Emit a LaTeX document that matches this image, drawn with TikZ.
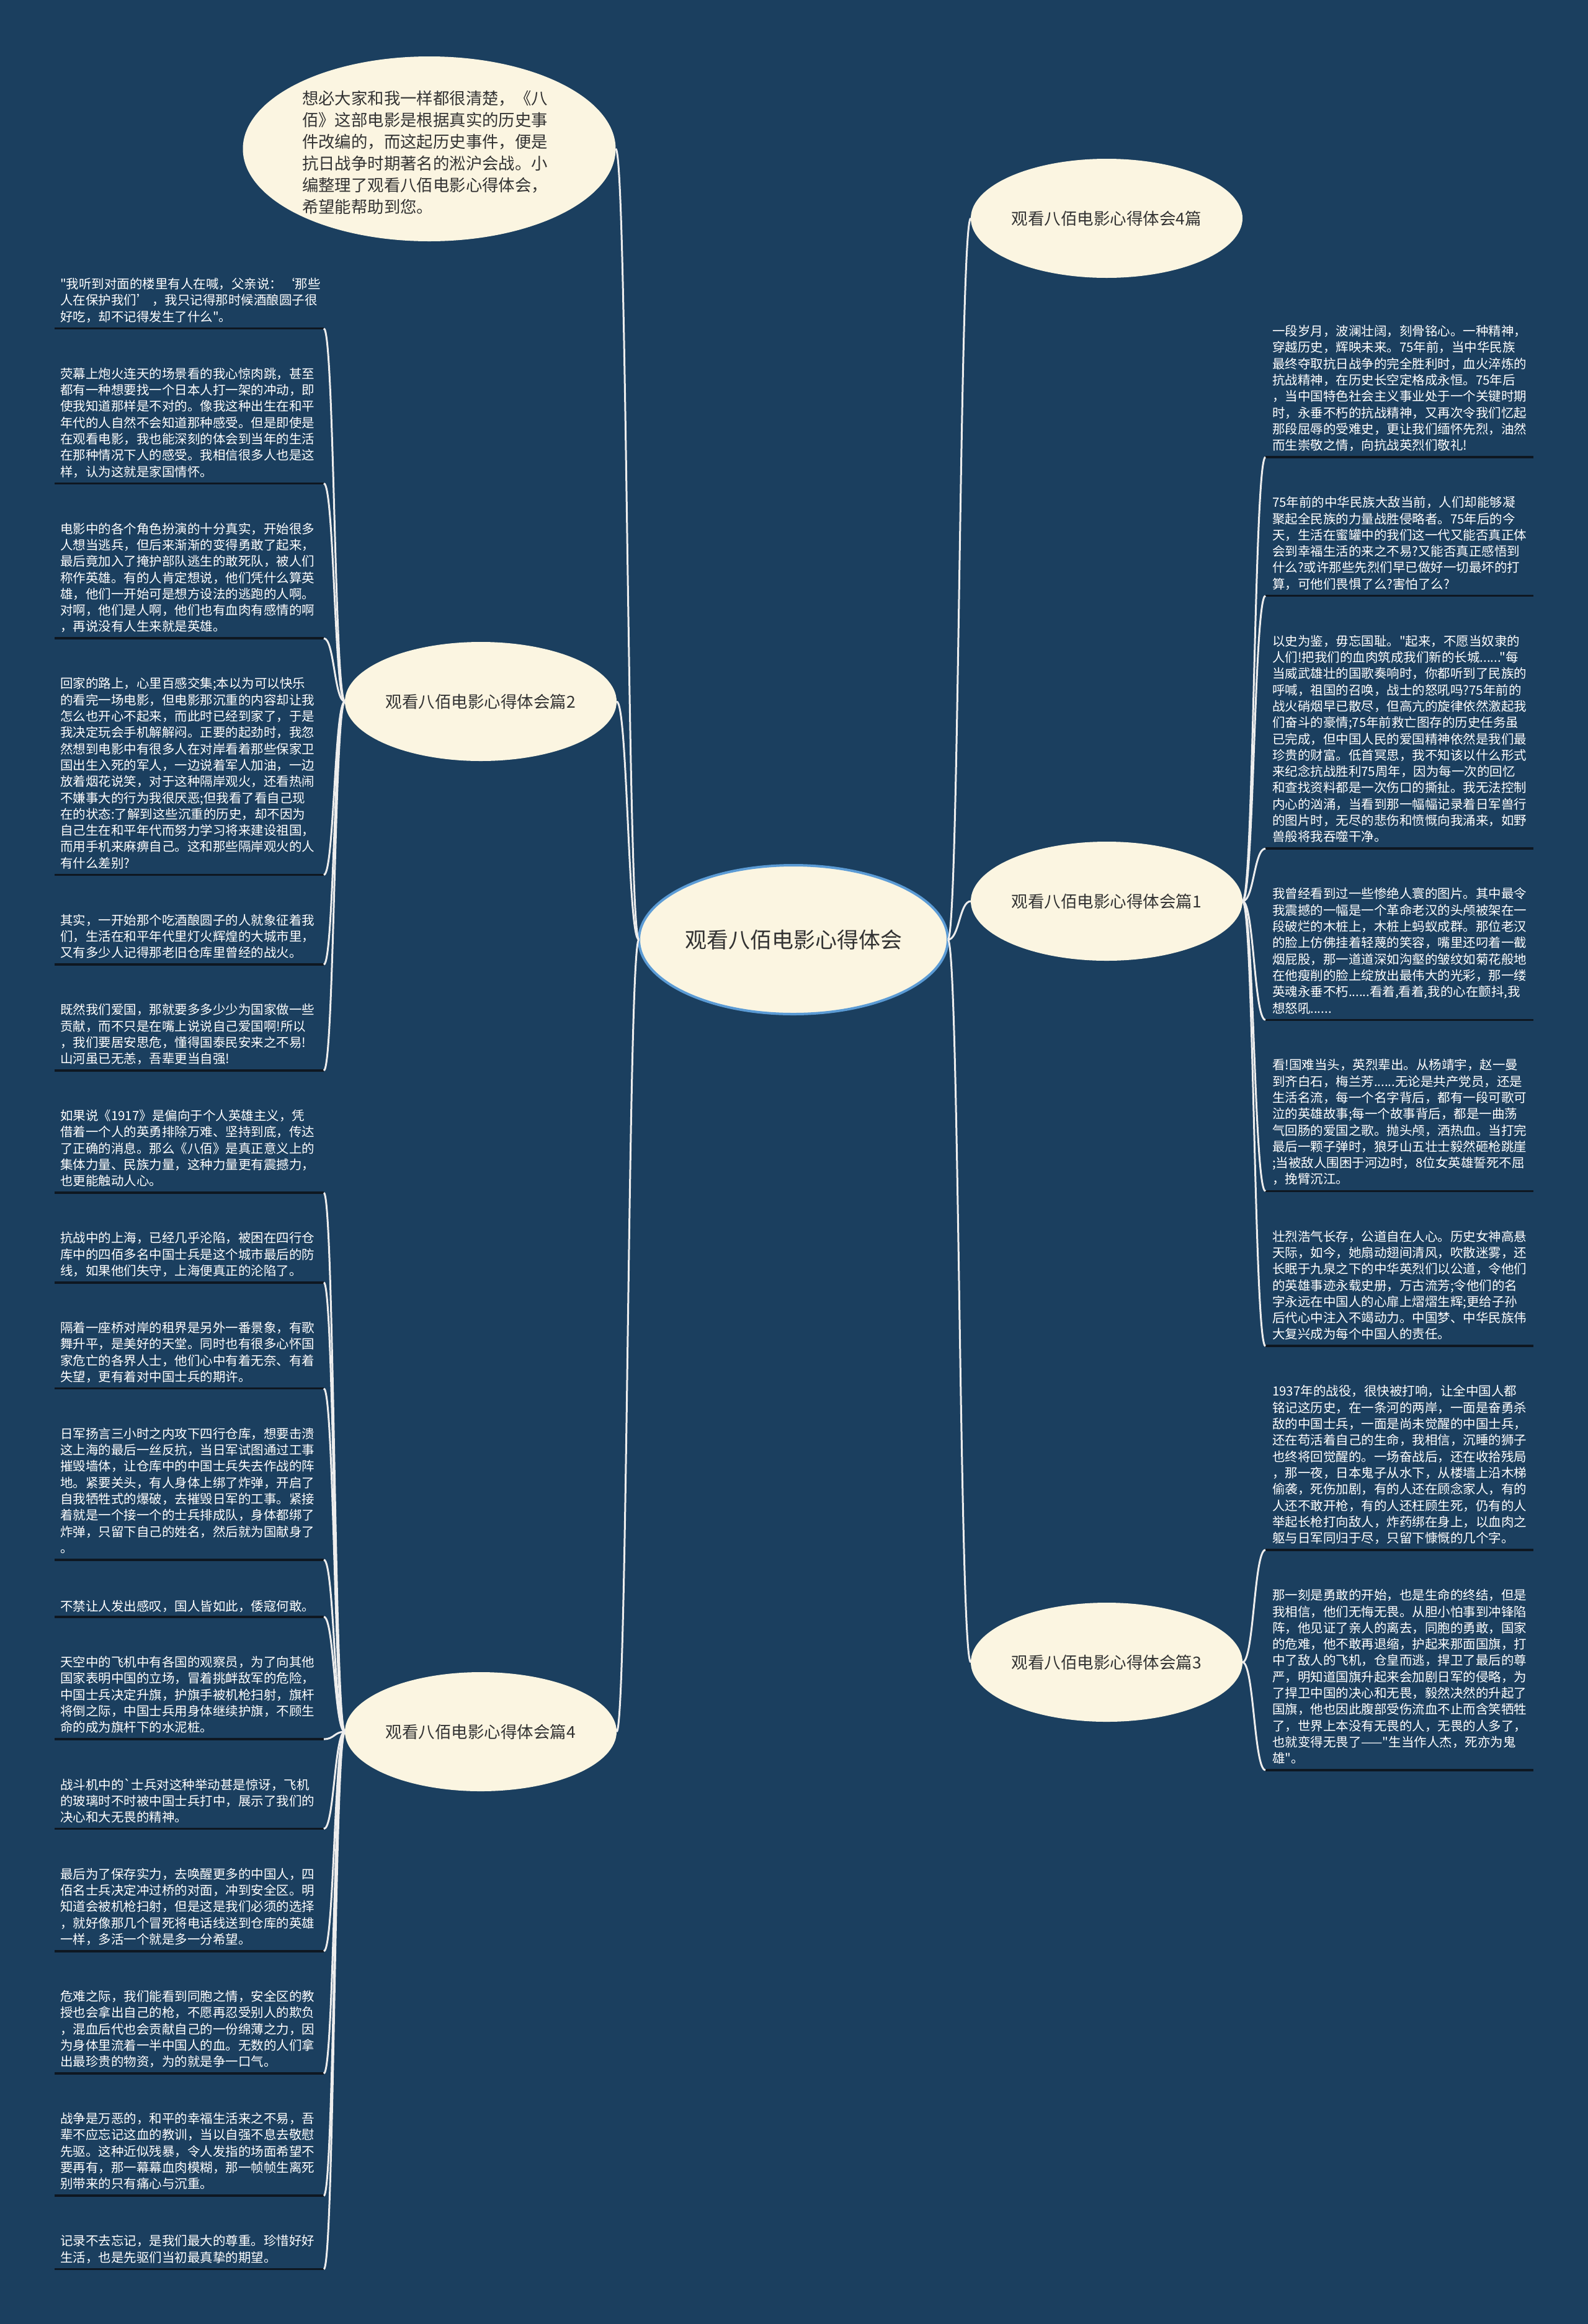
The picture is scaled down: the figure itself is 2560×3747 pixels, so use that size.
\documentclass[tikz,border=0pt]{standalone}
\usepackage{fontspec}
\newfontfamily\cjk{Noto Sans CJK SC}
\usetikzlibrary{shapes.geometric,calc}
\definecolor{bgblue}{HTML}{1B3F5F}
\definecolor{creamy}{HTML}{FBF5E1}
\definecolor{rimblue}{HTML}{5B9BD5}
\definecolor{inkgray}{HTML}{333333}
\definecolor{wirewhite}{HTML}{EDEDED}
\definecolor{ulblack}{HTML}{0E1721}
\tikzset{
  para/.style={anchor=north west,inner sep=0,outer sep=0,align=left,text=white,
    font={\cjk\fontsize{20.5bp}{26.3bp}\selectfont},
    execute at begin node={\rule{0pt}{19.5bp}}},
  introtext/.style={anchor=north west,inner sep=0,outer sep=0,align=left,text=inkgray,
    font={\cjk\fontsize{26.4bp}{35bp}\selectfont},
    execute at begin node={\rule{0pt}{25.1bp}}},
  blob/.style={ellipse,fill=creamy,text=inkgray,inner sep=0,outer sep=0,
    minimum width=438bp,minimum height=192bp,font={\cjk\fontsize{26.5bp}{30bp}\selectfont}},
  hub/.style={ellipse,fill=creamy,draw=rimblue,line width=4bp,text=inkgray,inner sep=0,outer sep=0,
    minimum width=498bp,minimum height=240bp,font={\cjk\fontsize{35bp}{40bp}\selectfont}},
  topblob/.style={ellipse,fill=creamy,inner sep=0,outer sep=0,minimum width=601bp,minimum height=298bp},
  linkline/.style={draw=wirewhite,line width=3bp},
  uline/.style={draw=ulblack,line width=3.5bp},
  curvy/.style={to path={let \p1=(\tikztostart),\p2=(\tikztotarget) in
    .. controls ({(\x1+\x2)/2},\y1) and ({(\x1+\x2)/2},\y2) .. (\tikztotarget)}}
}
\newcommand{\lblock}[4]{%
  \node[para] (#1) at (97,{#2+6}) {#4};
  \coordinate (#1s) at (88,#3);
  \coordinate (#1e) at (522,#3);
  \draw[uline] (#1s) -- (#1e);}
\newcommand{\rblock}[4]{%
  \node[para] (#1) at (2051,{#2+6}) {#4};
  \coordinate (#1s) at (2040,#3);
  \coordinate (#1e) at (2472,#3);
  \draw[uline] (#1e) -- (#1s);}
\begin{document}
\begin{tikzpicture}[x=1bp,y=-1bp]
\useasboundingbox (0,0) rectangle (2560,3747);
\fill[bgblue] (0,0) rectangle (2560,3747);

% main nodes
\node[hub] (c) at (1279,1515) {观看八佰电影心得体会};
\node[topblob] (intro) at (692,240) {};
\node[introtext] (introtxt) at (487,146) {想必大家和我一样都很清楚，《八\\%
佰》这部电影是根据真实的历史事\\%
件改编的，而这起历史事件，便是\\%
抗日战争时期著名的淞沪会战。小\\%
编整理了观看八佰电影心得体会，\\%
希望能帮助到您。};
\node[blob] (n2) at (775,1131) {观看八佰电影心得体会篇2};
\node[blob] (n4l) at (775,2792) {观看八佰电影心得体会篇4};
\node[blob] (n4r) at (1784,352) {观看八佰电影心得体会4篇};
\node[blob] (n1) at (1784,1453) {观看八佰电影心得体会篇1};
\node[blob] (n3) at (1784,2680) {观看八佰电影心得体会篇3};

\draw[linkline] (c.west) to[curvy] (intro.east);
\draw[linkline] (c.west) to[curvy] (n2.east);
\draw[linkline] (c.west) to[curvy] (n4l.east);
\draw[linkline] (c.east) to[curvy] (n4r.west);
\draw[linkline] (c.east) to[curvy] (n1.west);
\draw[linkline] (c.east) to[curvy] (n3.west);

% left blocks
\lblock{L1}{442.3}{529.6}{"我听到对面的楼里有人在喊，父亲说：‘那些\\%
人在保护我们’ ，我只记得那时候酒酿圆子很\\%
好吃，却不记得发生了什么"。}
\lblock{L2}{586.9}{779.4}{荧幕上炮火连天的场景看的我心惊肉跳，甚至\\%
都有一种想要找一个日本人打一架的冲动，即\\%
使我知道那样是不对的。像我这种出生在和平\\%
年代的人自然不会知道那种感受。但是即使是\\%
在观看电影，我也能深刻的体会到当年的生活\\%
在那种情况下人的感受。我相信很多人也是这\\%
样，认为这就是家国情怀。}
\lblock{L3}{836.7}{1029.2}{电影中的各个角色扮演的十分真实，开始很多\\%
人想当逃兵，但后来渐渐的变得勇敢了起来，\\%
最后竟加入了掩护部队逃生的敢死队，被人们\\%
称作英雄。有的人肯定想说，他们凭什么算英\\%
雄，他们一开始可是想方设法的逃跑的人啊。\\%
对啊，他们是人啊，他们也有血肉有感情的啊\\%
，再说没有人生来就是英雄。}
\lblock{L4}{1086.5}{1410.5}{回家的路上，心里百感交集;本以为可以快乐\\%
的看完一场电影，但电影那沉重的内容却让我\\%
怎么也开心不起来，而此时已经到家了，于是\\%
我决定玩会手机解解闷。正要的起劲时，我忽\\%
然想到电影中有很多人在对岸看着那些保家卫\\%
国出生入死的军人，一边说着军人加油，一边\\%
放着烟花说笑，对于这种隔岸观火，还看热闹\\%
不嫌事大的行为我很厌恶;但我看了看自己现\\%
在的状态:了解到这些沉重的历史，却不因为\\%
自己生在和平年代而努力学习将来建设祖国，\\%
而用手机来麻痹自己。这和那些隔岸观火的人\\%
有什么差别?}
\lblock{L5}{1467.8}{1555.1}{其实，一开始那个吃酒酿圆子的人就象征着我\\%
们，生活在和平年代里灯火辉煌的大城市里，\\%
又有多少人记得那老旧仓库里曾经的战火。}
\lblock{L6}{1612.4}{1726.0}{既然我们爱国，那就要多多少少为国家做一些\\%
贡献，而不只是在嘴上说说自己爱国啊!所以\\%
，我们要居安思危，懂得国泰民安来之不易!\\%
山河虽已无恙，吾辈更当自强!}
\lblock{L7}{1783.3}{1923.2}{如果说《1917》是偏向于个人英雄主义，凭\\%
借着一个人的英勇排除万难、坚持到底，传达\\%
了正确的消息。那么《八佰》是真正意义上的\\%
集体力量、民族力量，这种力量更有震撼力，\\%
也更能触动人心。}
\lblock{L8}{1980.5}{2067.8}{抗战中的上海，已经几乎沦陷，被困在四行仓\\%
库中的四佰多名中国士兵是这个城市最后的防\\%
线，如果他们失守，上海便真正的沦陷了。}
\lblock{L9}{2125.1}{2238.7}{隔着一座桥对岸的租界是另外一番景象，有歌\\%
舞升平，是美好的天堂。同时也有很多心怀国\\%
家危亡的各界人士，他们心中有着无奈、有着\\%
失望，更有着对中国士兵的期许。}
\lblock{L10}{2296.0}{2514.8}{日军扬言三小时之内攻下四行仓库，想要击溃\\%
这上海的最后一丝反抗，当日军试图通过工事\\%
摧毁墙体，让仓库中的中国士兵失去作战的阵\\%
地。紧要关头，有人身体上绑了炸弹，开启了\\%
自我牺牲式的爆破，去摧毁日军的工事。紧接\\%
着就是一个接一个的士兵排成队，身体都绑了\\%
炸弹，只留下自己的姓名，然后就为国献身了\\%
。}
\lblock{L11}{2572.1}{2606.8}{不禁让人发出感叹，国人皆如此，倭寇何敢。}
\lblock{L12}{2664.1}{2804.0}{天空中的飞机中有各国的观察员，为了向其他\\%
国家表明中国的立场，冒着挑衅敌军的危险，\\%
中国士兵决定升旗，护旗手被机枪扫射，旗杆\\%
将倒之际，中国士兵用身体继续护旗，不顾生\\%
命的成为旗杆下的水泥桩。}
\lblock{L13}{2861.3}{2948.6}{战斗机中的`士兵对这种举动甚是惊讶，飞机\\%
的玻璃时不时被中国士兵打中，展示了我们的\\%
决心和大无畏的精神。}
\lblock{L14}{3005.9}{3145.8}{最后为了保存实力，去唤醒更多的中国人，四\\%
佰名士兵决定冲过桥的对面，冲到安全区。明\\%
知道会被机枪扫射，但是这是我们必须的选择\\%
，就好像那几个冒死将电话线送到仓库的英雄\\%
一样，多活一个就是多一分希望。}
\lblock{L15}{3203.1}{3343.0}{危难之际，我们能看到同胞之情，安全区的教\\%
授也会拿出自己的枪，不愿再忍受别人的欺负\\%
，混血后代也会贡献自己的一份绵薄之力，因\\%
为身体里流着一半中国人的血。无数的人们拿\\%
出最珍贵的物资，为的就是争一口气。}
\lblock{L16}{3400.3}{3540.2}{战争是万恶的，和平的幸福生活来之不易，吾\\%
辈不应忘记这血的教训，当以自强不息去敬慰\\%
先驱。这种近似残暴，令人发指的场面希望不\\%
要再有，那一幕幕血肉模糊，那一帧帧生离死\\%
别带来的只有痛心与沉重。}
\lblock{L17}{3597.5}{3658.5}{记录不去忘记，是我们最大的尊重。珍惜好好\\%
生活，也是先驱们当初最真挚的期望。}

% right blocks
\rblock{R1}{518.3}{737.1}{一段岁月，波澜壮阔，刻骨铭心。一种精神，\\%
穿越历史，辉映未来。75年前，当中华民族\\%
最终夺取抗日战争的完全胜利时，血火淬炼的\\%
抗战精神，在历史长空定格成永恒。75年后\\%
，当中国特色社会主义事业处于一个关键时期\\%
时，永垂不朽的抗战精神，又再次令我们忆起\\%
那段屈辱的受难史，更让我们缅怀先烈，油然\\%
而生崇敬之情，向抗战英烈们敬礼!}
\rblock{R2}{794.4}{960.6}{75年前的中华民族大敌当前，人们却能够凝\\%
聚起全民族的力量战胜侵略者。75年后的今\\%
天，生活在蜜罐中的我们这一代又能否真正体\\%
会到幸福生活的来之不易?又能否真正感悟到\\%
什么?或许那些先烈们早已做好一切最坏的打\\%
算，可他们畏惧了么?害怕了么?}
\rblock{R3}{1017.9}{1368.2}{以史为鉴，毋忘国耻。"起来，不愿当奴隶的\\%
人们!把我们的血肉筑成我们新的长城......"每\\%
当威武雄壮的国歌奏响时，你都听到了民族的\\%
呼喊，祖国的召唤，战士的怒吼吗?75年前的\\%
战火硝烟早已散尽，但高亢的旋律依然激起我\\%
们奋斗的豪情;75年前救亡图存的历史任务虽\\%
已完成，但中国人民的爱国精神依然是我们最\\%
珍贵的财富。低首冥思，我不知该以什么形式\\%
来纪念抗战胜利75周年，因为每一次的回忆\\%
和查找资料都是一次伤口的撕扯。我无法控制\\%
内心的汹涌，当看到那一幅幅记录着日军兽行\\%
的图片时，无尽的悲伤和愤慨向我涌来，如野\\%
兽般将我吞噬干净。}
\rblock{R4}{1425.5}{1644.3}{我曾经看到过一些惨绝人寰的图片。其中最令\\%
我震撼的一幅是一个革命老汉的头颅被架在一\\%
段破烂的木桩上，木桩上蚂蚁成群。那位老汉\\%
的脸上仿佛挂着轻蔑的笑容，嘴里还叼着一截\\%
烟屁股，那一道道深如沟壑的皱纹如菊花般地\\%
在他瘦削的脸上绽放出最伟大的光彩，那一缕\\%
英魂永垂不朽......看着,看着,我的心在颤抖,我\\%
想怒吼......}
\rblock{R5}{1701.6}{1920.4}{看!国难当头，英烈辈出。从杨靖宇，赵一曼\\%
到齐白石，梅兰芳......无论是共产党员，还是\\%
生活名流，每一个名字背后，都有一段可歌可\\%
泣的英雄故事;每一个故事背后，都是一曲荡\\%
气回肠的爱国之歌。抛头颅，洒热血。当打完\\%
最后一颗子弹时，狼牙山五壮士毅然砸枪跳崖\\%
;当被敌人围困于河边时，8位女英雄誓死不屈\\%
，挽臂沉江。}
\rblock{R6}{1977.7}{2170.2}{壮烈浩气长存，公道自在人心。历史女神高悬\\%
天际，如今，她扇动翅间清风，吹散迷雾，还\\%
长眠于九泉之下的中华英烈们以公道，令他们\\%
的英雄事迹永载史册，万古流芳;令他们的名\\%
字永远在中国人的心扉上熠熠生辉;更给子孙\\%
后代心中注入不竭动力。中国梦、中华民族伟\\%
大复兴成为每个中国人的责任。}
\rblock{R7}{2227.5}{2498.9}{1937年的战役，很快被打响，让全中国人都\\%
铭记这历史，在一条河的两岸，一面是奋勇杀\\%
敌的中国士兵，一面是尚未觉醒的中国士兵，\\%
还在苟活着自己的生命，我相信，沉睡的狮子\\%
也终将回觉醒的。一场奋战后，还在收拾残局\\%
，那一夜，日本鬼子从水下，从楼墙上沿木梯\\%
偷袭，死伤加剧，有的人还在顾念家人，有的\\%
人还不敢开枪，有的人还枉顾生死，仍有的人\\%
举起长枪打向敌人，炸药绑在身上，以血肉之\\%
躯与日军同归于尽，只留下慷慨的几个字。}
\rblock{R8}{2556.2}{2853.9}{那一刻是勇敢的开始，也是生命的终结，但是\\%
我相信，他们无悔无畏。从胆小怕事到冲锋陷\\%
阵，他见证了亲人的离去，同胞的勇敢，国家\\%
的危难，他不敢再退缩，护起来那面国旗，打\\%
中了敌人的飞机，仓皇而逃，捍卫了最后的尊\\%
严，明知道国旗升起来会加剧日军的侵略，为\\%
了捍卫中国的决心和无畏，毅然决然的升起了\\%
国旗，他也因此腹部受伤流血不止而含笑牺牲\\%
了，世界上本没有无畏的人，无畏的人多了，\\%
也就变得无畏了——"生当作人杰，死亦为鬼\\%
雄"。}

% connectors to text blocks
\foreach \k in {L1,L2,L3,L4,L5,L6} {\draw[linkline] (n2.west) to[curvy] (\k e);}
\foreach \k in {L7,L8,L9,L10,L11,L12,L13,L14,L15,L16,L17} {\draw[linkline] (n4l.west) to[curvy] (\k e);}
\foreach \k in {R1,R2,R3,R4,R5,R6} {\draw[linkline] (n1.east) to[curvy] (\k s);}
\foreach \k in {R7,R8} {\draw[linkline] (n3.east) to[curvy] (\k s);}
\end{tikzpicture}
\end{document}
